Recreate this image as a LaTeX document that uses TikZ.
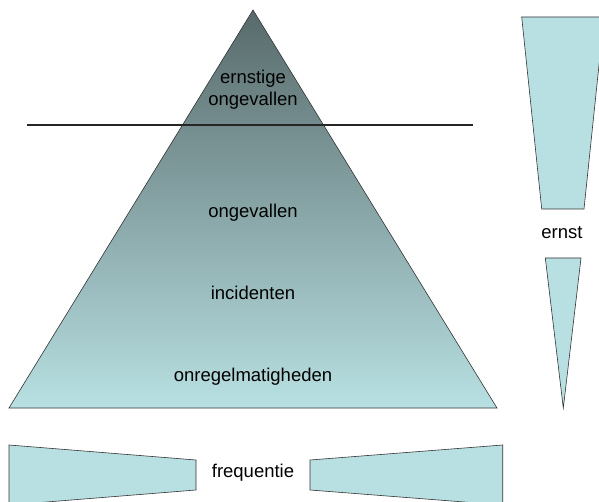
\documentclass[tikz,border=0pt]{standalone}
\usepackage{fontspec}
\setmainfont{Liberation Sans}
\begin{document}
\begin{tikzpicture}[x=1pt,y=-1pt,
  shapefill/.style={fill=lightcyan,draw=black!80,line width=0.6pt,line join=miter},
  lbl/.style={font=\fontsize{18.5}{22}\selectfont,inner sep=0pt,align=center,text=black}]
\definecolor{lightcyan}{HTML}{B8E0E2}
\definecolor{darkslate}{HTML}{586A6B}
\useasboundingbox (0,0) rectangle (599,502);
\clip (0,0) rectangle (599,502);
% pyramid
\coordinate (apex) at (253,10);
\coordinate (bl) at (9,408);
\coordinate (br) at (497,408);
\shade[top color=darkslate,bottom color=lightcyan] (apex) -- (br) -- (bl) -- cycle;
\draw[draw=black!80,line width=0.6pt] (apex) -- (br) -- (bl) -- cycle;
% water line
\coordinate (wl) at (27,125);
\coordinate (wr) at (473,125);
\draw[line width=1.1pt,black!85] (wl) -- (wr);
% labels
\node[lbl] (t1) at (253,90) {ernstige\\ongevallen};
\node[lbl] (t2) at (253,213) {ongevallen};
\node[lbl] (t3) at (253,293) {incidenten};
\node[lbl] (t4) at (253,377) {onregelmatigheden};
% right side: severity
\draw[shapefill] (521.7,17) -- (604,17) -- (584,209) -- (541.7,209) -- cycle;
\node[lbl] (ernst) at (562,233) {ernst};
\draw[shapefill] (545.3,258) -- (581,258) -- (563.3,408) -- cycle;
% bottom: frequency
\draw[shapefill] (9,445) -- (196,460) -- (196,490) -- (9,505) -- cycle;
\draw[shapefill] (310,460) -- (502.7,445) -- (502.7,505) -- (310,490) -- cycle;
\node[lbl] (freq) at (253,473) {frequentie};
\end{tikzpicture}
\end{document}
